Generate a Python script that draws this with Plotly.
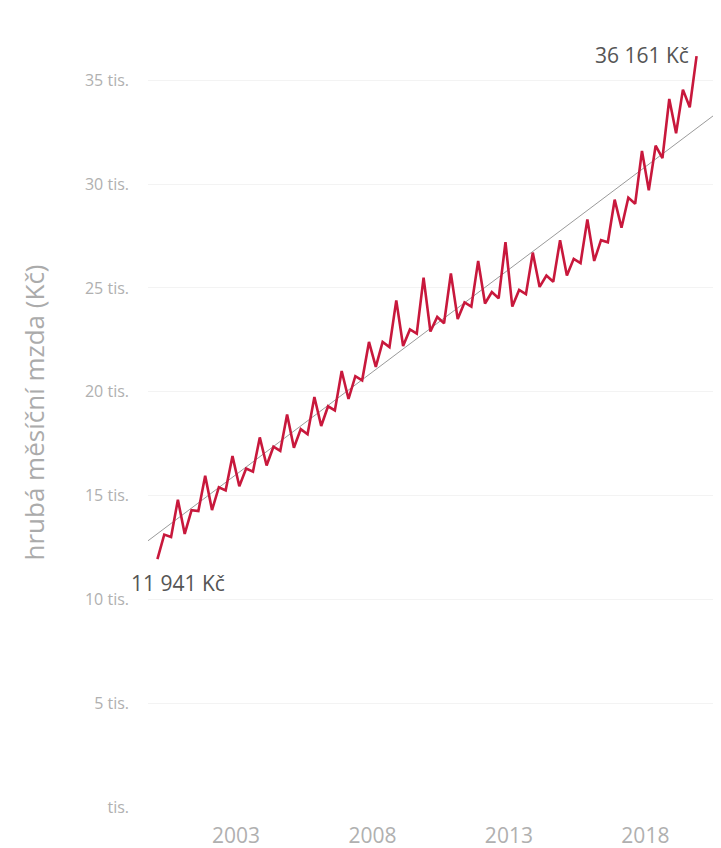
import plotly.graph_objects as go

# Average gross monthly wage, quarterly (Kc), 2000 Q1 - 2019 Q4
years = list(range(2000, 2020))
quarters = [1, 2, 3, 4]
wage_q = {
    2000: [11941, 13120, 13000, 14800],
    2001: [13150, 14300, 14250, 15950],
    2002: [14300, 15400, 15250, 16900],
    2003: [15450, 16300, 16150, 17800],
    2004: [16450, 17350, 17150, 18900],
    2005: [17300, 18200, 17950, 19750],
    2006: [18350, 19300, 19100, 21000],
    2007: [19650, 20750, 20550, 22400],
    2008: [21200, 22400, 22150, 24400],
    2009: [22200, 23000, 22800, 25500],
    2010: [22900, 23600, 23300, 25700],
    2011: [23500, 24300, 24100, 26300],
    2012: [24250, 24800, 24500, 27200],
    2013: [24100, 24900, 24700, 26700],
    2014: [25050, 25600, 25300, 27300],
    2015: [25600, 26400, 26200, 28300],
    2016: [26300, 27300, 27200, 29250],
    2017: [27900, 29350, 29050, 31600],
    2018: [29700, 31850, 31250, 34100],
    2019: [32450, 34550, 33700, 36161],
}

# linear trend
trend_years = [1999, 2021]
trend_values = [12050, 33800]

y_ticks = [0, 5000, 10000, 15000, 20000, 25000, 30000, 35000]
y_tick_labels = ["tis.", "5 tis.", "10 tis.", "15 tis.", "20 tis.", "25 tis.", "30 tis.", "35 tis."]
x_ticks = [2003, 2008, 2013, 2018]

# quarter midpoints on a decimal-year axis
x = []
y = []
for yr in years:
    for q, v in zip(quarters, wage_q[yr]):
        x.append(yr + (q - 0.5) / 4)
        y.append(v)

FONT = "Open Sans"
RED = "#c8183c"

fig = go.Figure()

fig.add_trace(go.Scatter(
    x=trend_years, y=trend_values,
    mode="lines",
    line=dict(color="#9a9a9a", width=1),
    hoverinfo="skip",
    showlegend=False
))

fig.add_trace(go.Scatter(
    x=x, y=y,
    mode="lines",
    line=dict(color=RED, width=2.6),
    hovertemplate="%{y:,.0f} Kč<extra></extra>",
    showlegend=False
))

# first / last value labels
fig.add_annotation(
    x=x[0], y=y[0], text="11 941 Kč", showarrow=False,
    xanchor="left", yanchor="top", xshift=-28, yshift=-8,
    font=dict(family=FONT, size=21, color="#555555")
)
fig.add_annotation(
    x=x[-1], y=y[-1], text="36 161 Kč", showarrow=False,
    xanchor="right", yanchor="middle", xshift=-6, yshift=1,
    font=dict(family=FONT, size=21, color="#555555")
)

# the page body adds an 8px offset, so margins are trimmed by 8 on the left/top
fig.update_layout(
    width=721, height=848,
    margin=dict(l=140, r=8, t=10, b=49),
    paper_bgcolor="white",
    plot_bgcolor="white",
    font=dict(family=FONT, color="#aaaaaa"),
    xaxis=dict(
        range=[1999.78, 2020.77],
        tickvals=x_ticks,
        ticktext=[str(t) for t in x_ticks],
        showgrid=False, zeroline=False, showline=False,
        ticks="", ticklabelstandoff=14, automargin=False,
        tickfont=dict(family=FONT, size=21, color="#b0b0b0")
    ),
    yaxis=dict(
        range=[0, 38000],
        tickvals=y_ticks,
        ticktext=y_tick_labels,
        showgrid=True, gridcolor="#f3f3f3", gridwidth=1,
        zeroline=False, showline=False, ticks="", automargin=False,
        ticklabelstandoff=18,
        tickfont=dict(family=FONT, size=16, color="#b0b0b0"),
        title=dict(text="hrubá měsíční mzda (Kč)", standoff=32,
                   font=dict(family=FONT, size=26, color="#ababab"))
    )
)

fig.write_html("out.html")
